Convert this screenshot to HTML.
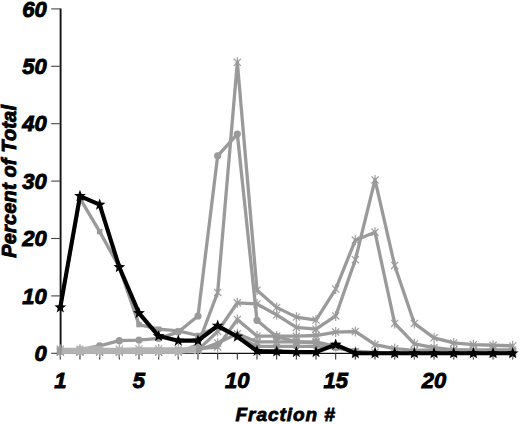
<!DOCTYPE html>
<html><head><meta charset="utf-8"><style>
html,body{margin:0;padding:0;background:#fff;}
body{width:520px;height:424px;overflow:hidden;font-family:"Liberation Sans",sans-serif;}
svg{display:block;}
</style></head><body>
<svg width="520" height="424" viewBox="0 0 520 424">
<rect width="520" height="424" fill="#fff"/>
<line x1="60.6" y1="8.6" x2="60.6" y2="354" stroke="#111" stroke-width="1.9"/><line x1="59.6" y1="353.4" x2="516" y2="353.4" stroke="#111" stroke-width="1.2"/><line x1="51.2" y1="353.30" x2="60.4" y2="353.30" stroke="#444" stroke-width="1.1"/><line x1="51.2" y1="295.90" x2="60.4" y2="295.90" stroke="#444" stroke-width="1.1"/><line x1="51.2" y1="238.50" x2="60.4" y2="238.50" stroke="#444" stroke-width="1.1"/><line x1="51.2" y1="181.10" x2="60.4" y2="181.10" stroke="#444" stroke-width="1.1"/><line x1="51.2" y1="123.70" x2="60.4" y2="123.70" stroke="#444" stroke-width="1.1"/><line x1="51.2" y1="66.30" x2="60.4" y2="66.30" stroke="#444" stroke-width="1.1"/><line x1="51.2" y1="8.90" x2="60.4" y2="8.90" stroke="#444" stroke-width="1.1"/><line x1="60.30" y1="353" x2="60.30" y2="359.6" stroke="#333" stroke-width="1.1"/><line x1="79.97" y1="353" x2="79.97" y2="359.6" stroke="#333" stroke-width="1.1"/><line x1="99.64" y1="353" x2="99.64" y2="359.6" stroke="#333" stroke-width="1.1"/><line x1="119.31" y1="353" x2="119.31" y2="359.6" stroke="#333" stroke-width="1.1"/><line x1="138.98" y1="353" x2="138.98" y2="359.6" stroke="#333" stroke-width="1.1"/><line x1="158.65" y1="353" x2="158.65" y2="359.6" stroke="#333" stroke-width="1.1"/><line x1="178.32" y1="353" x2="178.32" y2="359.6" stroke="#333" stroke-width="1.1"/><line x1="197.99" y1="353" x2="197.99" y2="359.6" stroke="#333" stroke-width="1.1"/><line x1="217.66" y1="353" x2="217.66" y2="359.6" stroke="#333" stroke-width="1.1"/><line x1="237.33" y1="353" x2="237.33" y2="359.6" stroke="#333" stroke-width="1.1"/><line x1="257.00" y1="353" x2="257.00" y2="359.6" stroke="#333" stroke-width="1.1"/><line x1="276.67" y1="353" x2="276.67" y2="359.6" stroke="#333" stroke-width="1.1"/><line x1="296.34" y1="353" x2="296.34" y2="359.6" stroke="#333" stroke-width="1.1"/><line x1="316.01" y1="353" x2="316.01" y2="359.6" stroke="#333" stroke-width="1.1"/><line x1="335.68" y1="353" x2="335.68" y2="359.6" stroke="#333" stroke-width="1.1"/><line x1="355.35" y1="353" x2="355.35" y2="359.6" stroke="#333" stroke-width="1.1"/><line x1="375.02" y1="353" x2="375.02" y2="359.6" stroke="#333" stroke-width="1.1"/><line x1="394.69" y1="353" x2="394.69" y2="359.6" stroke="#333" stroke-width="1.1"/><line x1="414.36" y1="353" x2="414.36" y2="359.6" stroke="#333" stroke-width="1.1"/><line x1="434.03" y1="353" x2="434.03" y2="359.6" stroke="#333" stroke-width="1.1"/><line x1="453.70" y1="353" x2="453.70" y2="359.6" stroke="#333" stroke-width="1.1"/><line x1="473.37" y1="353" x2="473.37" y2="359.6" stroke="#333" stroke-width="1.1"/><line x1="493.04" y1="353" x2="493.04" y2="359.6" stroke="#333" stroke-width="1.1"/><line x1="512.71" y1="353" x2="512.71" y2="359.6" stroke="#333" stroke-width="1.1"/><polyline points="60.30,352.15 79.97,352.15 99.64,352.15 119.31,352.15 138.98,352.15 158.65,352.15 178.32,352.15 197.99,350.43 217.66,342.97 237.33,333.78 257.00,341.82 276.67,341.82 296.34,341.82 316.01,342.97 335.68,346.41 355.35,351.58 375.02,352.73 394.69,353.30 414.36,353.30 434.03,353.30 453.70,353.30 473.37,353.30 493.04,353.30 512.71,353.30" fill="none" stroke="#9a9a9a" stroke-width="3.3" stroke-linejoin="round" stroke-linecap="round"/><polyline points="60.30,349.28 79.97,349.28 99.64,349.28 119.31,349.28 138.98,349.00 158.65,349.00 178.32,349.00 197.99,348.71 217.66,346.99 237.33,319.43 257.00,336.08 276.67,336.08 296.34,336.08 316.01,335.51 335.68,332.06 355.35,331.49 375.02,344.69 394.69,348.71 414.36,350.43 434.03,349.86 453.70,349.86 473.37,349.86 493.04,349.86 512.71,349.86" fill="none" stroke="#9a9a9a" stroke-width="3.3" stroke-linejoin="round" stroke-linecap="round"/><polyline points="60.30,351.00 79.97,351.00 99.64,351.00 119.31,351.00 138.98,351.00 158.65,350.43 178.32,350.43 197.99,349.86 217.66,331.49 237.33,302.79 257.00,303.94 276.67,314.84 296.34,327.47 316.01,329.19 335.68,315.99 355.35,259.74 375.02,179.95 394.69,265.48 414.36,323.45 434.03,337.80 453.70,342.97 473.37,344.69 493.04,345.26 512.71,345.84" fill="none" stroke="#9a9a9a" stroke-width="3.3" stroke-linejoin="round" stroke-linecap="round"/><polyline points="60.30,351.58 79.97,349.28 99.64,345.84 119.31,340.67 138.98,340.10 158.65,338.38 178.32,332.06 197.99,315.99 217.66,155.84 237.33,134.03 257.00,320.30 276.67,336.65 296.34,341.82 316.01,341.82 335.68,346.41 355.35,351.58 375.02,352.73 394.69,353.30 414.36,353.30 434.03,353.30 453.70,353.30 473.37,353.30 493.04,353.30 512.71,353.30" fill="none" stroke="#9a9a9a" stroke-width="3.3" stroke-linejoin="round" stroke-linecap="round"/><polyline points="60.30,307.38 79.97,198.32 99.64,231.61 119.31,267.20 138.98,324.60 158.65,329.19 178.32,330.91 197.99,335.51 217.66,326.90 237.33,336.65 257.00,346.41 276.67,346.41 296.34,346.41 316.01,346.41 335.68,348.13 355.35,351.00 375.02,353.30 394.69,353.30 414.36,353.30 434.03,353.30 453.70,353.30 473.37,353.30 493.04,353.30 512.71,353.30" fill="none" stroke="#9a9a9a" stroke-width="3.3" stroke-linejoin="round" stroke-linecap="round"/><polyline points="60.30,352.15 79.97,352.15 99.64,352.15 119.31,352.15 138.98,352.15 158.65,352.15 178.32,352.15 197.99,344.69 217.66,292.46 237.33,62.28 257.00,290.16 276.67,307.38 296.34,317.14 316.01,320.01 335.68,289.01 355.35,240.22 375.02,232.19 394.69,323.45 414.36,343.83 434.03,347.56 453.70,349.86 473.37,351.00 493.04,351.58 512.71,351.58" fill="none" stroke="#9a9a9a" stroke-width="3.3" stroke-linejoin="round" stroke-linecap="round"/><line x1="60.30" y1="347.15" x2="60.30" y2="357.15" stroke="#9a9a9a" stroke-width="1.15"/><line x1="56.76" y1="348.62" x2="63.84" y2="355.69" stroke="#9a9a9a" stroke-width="1.15"/><line x1="63.84" y1="348.62" x2="56.76" y2="355.69" stroke="#9a9a9a" stroke-width="1.15"/><line x1="79.97" y1="347.15" x2="79.97" y2="357.15" stroke="#9a9a9a" stroke-width="1.15"/><line x1="76.43" y1="348.62" x2="83.51" y2="355.69" stroke="#9a9a9a" stroke-width="1.15"/><line x1="83.51" y1="348.62" x2="76.43" y2="355.69" stroke="#9a9a9a" stroke-width="1.15"/><line x1="99.64" y1="347.15" x2="99.64" y2="357.15" stroke="#9a9a9a" stroke-width="1.15"/><line x1="96.10" y1="348.62" x2="103.18" y2="355.69" stroke="#9a9a9a" stroke-width="1.15"/><line x1="103.18" y1="348.62" x2="96.10" y2="355.69" stroke="#9a9a9a" stroke-width="1.15"/><line x1="119.31" y1="347.15" x2="119.31" y2="357.15" stroke="#9a9a9a" stroke-width="1.15"/><line x1="115.77" y1="348.62" x2="122.85" y2="355.69" stroke="#9a9a9a" stroke-width="1.15"/><line x1="122.85" y1="348.62" x2="115.77" y2="355.69" stroke="#9a9a9a" stroke-width="1.15"/><line x1="138.98" y1="347.15" x2="138.98" y2="357.15" stroke="#9a9a9a" stroke-width="1.15"/><line x1="135.44" y1="348.62" x2="142.52" y2="355.69" stroke="#9a9a9a" stroke-width="1.15"/><line x1="142.52" y1="348.62" x2="135.44" y2="355.69" stroke="#9a9a9a" stroke-width="1.15"/><line x1="158.65" y1="347.15" x2="158.65" y2="357.15" stroke="#9a9a9a" stroke-width="1.15"/><line x1="155.11" y1="348.62" x2="162.19" y2="355.69" stroke="#9a9a9a" stroke-width="1.15"/><line x1="162.19" y1="348.62" x2="155.11" y2="355.69" stroke="#9a9a9a" stroke-width="1.15"/><line x1="178.32" y1="347.15" x2="178.32" y2="357.15" stroke="#9a9a9a" stroke-width="1.15"/><line x1="174.78" y1="348.62" x2="181.86" y2="355.69" stroke="#9a9a9a" stroke-width="1.15"/><line x1="181.86" y1="348.62" x2="174.78" y2="355.69" stroke="#9a9a9a" stroke-width="1.15"/><line x1="197.99" y1="339.69" x2="197.99" y2="349.69" stroke="#9a9a9a" stroke-width="1.15"/><line x1="194.45" y1="341.15" x2="201.53" y2="348.23" stroke="#9a9a9a" stroke-width="1.15"/><line x1="201.53" y1="341.15" x2="194.45" y2="348.23" stroke="#9a9a9a" stroke-width="1.15"/><line x1="217.66" y1="287.46" x2="217.66" y2="297.46" stroke="#9a9a9a" stroke-width="1.15"/><line x1="214.12" y1="288.92" x2="221.20" y2="295.99" stroke="#9a9a9a" stroke-width="1.15"/><line x1="221.20" y1="288.92" x2="214.12" y2="295.99" stroke="#9a9a9a" stroke-width="1.15"/><line x1="237.33" y1="57.28" x2="237.33" y2="67.28" stroke="#9a9a9a" stroke-width="1.15"/><line x1="233.79" y1="58.75" x2="240.87" y2="65.82" stroke="#9a9a9a" stroke-width="1.15"/><line x1="240.87" y1="58.75" x2="233.79" y2="65.82" stroke="#9a9a9a" stroke-width="1.15"/><line x1="257.00" y1="285.16" x2="257.00" y2="295.16" stroke="#9a9a9a" stroke-width="1.15"/><line x1="253.46" y1="286.62" x2="260.54" y2="293.70" stroke="#9a9a9a" stroke-width="1.15"/><line x1="260.54" y1="286.62" x2="253.46" y2="293.70" stroke="#9a9a9a" stroke-width="1.15"/><line x1="276.67" y1="302.38" x2="276.67" y2="312.38" stroke="#9a9a9a" stroke-width="1.15"/><line x1="273.13" y1="303.84" x2="280.21" y2="310.92" stroke="#9a9a9a" stroke-width="1.15"/><line x1="280.21" y1="303.84" x2="273.13" y2="310.92" stroke="#9a9a9a" stroke-width="1.15"/><line x1="296.34" y1="312.14" x2="296.34" y2="322.14" stroke="#9a9a9a" stroke-width="1.15"/><line x1="292.80" y1="313.60" x2="299.88" y2="320.67" stroke="#9a9a9a" stroke-width="1.15"/><line x1="299.88" y1="313.60" x2="292.80" y2="320.67" stroke="#9a9a9a" stroke-width="1.15"/><line x1="316.01" y1="315.01" x2="316.01" y2="325.01" stroke="#9a9a9a" stroke-width="1.15"/><line x1="312.47" y1="316.47" x2="319.55" y2="323.54" stroke="#9a9a9a" stroke-width="1.15"/><line x1="319.55" y1="316.47" x2="312.47" y2="323.54" stroke="#9a9a9a" stroke-width="1.15"/><line x1="335.68" y1="284.01" x2="335.68" y2="294.01" stroke="#9a9a9a" stroke-width="1.15"/><line x1="332.14" y1="285.48" x2="339.22" y2="292.55" stroke="#9a9a9a" stroke-width="1.15"/><line x1="339.22" y1="285.48" x2="332.14" y2="292.55" stroke="#9a9a9a" stroke-width="1.15"/><line x1="355.35" y1="235.22" x2="355.35" y2="245.22" stroke="#9a9a9a" stroke-width="1.15"/><line x1="351.81" y1="236.69" x2="358.89" y2="243.76" stroke="#9a9a9a" stroke-width="1.15"/><line x1="358.89" y1="236.69" x2="351.81" y2="243.76" stroke="#9a9a9a" stroke-width="1.15"/><line x1="375.02" y1="227.19" x2="375.02" y2="237.19" stroke="#9a9a9a" stroke-width="1.15"/><line x1="371.48" y1="228.65" x2="378.56" y2="235.72" stroke="#9a9a9a" stroke-width="1.15"/><line x1="378.56" y1="228.65" x2="371.48" y2="235.72" stroke="#9a9a9a" stroke-width="1.15"/><line x1="394.69" y1="318.45" x2="394.69" y2="328.45" stroke="#9a9a9a" stroke-width="1.15"/><line x1="391.15" y1="319.92" x2="398.23" y2="326.99" stroke="#9a9a9a" stroke-width="1.15"/><line x1="398.23" y1="319.92" x2="391.15" y2="326.99" stroke="#9a9a9a" stroke-width="1.15"/><line x1="414.36" y1="338.83" x2="414.36" y2="348.83" stroke="#9a9a9a" stroke-width="1.15"/><line x1="410.82" y1="340.29" x2="417.90" y2="347.36" stroke="#9a9a9a" stroke-width="1.15"/><line x1="417.90" y1="340.29" x2="410.82" y2="347.36" stroke="#9a9a9a" stroke-width="1.15"/><line x1="434.03" y1="342.56" x2="434.03" y2="352.56" stroke="#9a9a9a" stroke-width="1.15"/><line x1="430.49" y1="344.02" x2="437.57" y2="351.10" stroke="#9a9a9a" stroke-width="1.15"/><line x1="437.57" y1="344.02" x2="430.49" y2="351.10" stroke="#9a9a9a" stroke-width="1.15"/><line x1="453.70" y1="344.86" x2="453.70" y2="354.86" stroke="#9a9a9a" stroke-width="1.15"/><line x1="450.16" y1="346.32" x2="457.24" y2="353.39" stroke="#9a9a9a" stroke-width="1.15"/><line x1="457.24" y1="346.32" x2="450.16" y2="353.39" stroke="#9a9a9a" stroke-width="1.15"/><line x1="473.37" y1="346.00" x2="473.37" y2="356.00" stroke="#9a9a9a" stroke-width="1.15"/><line x1="469.83" y1="347.47" x2="476.91" y2="354.54" stroke="#9a9a9a" stroke-width="1.15"/><line x1="476.91" y1="347.47" x2="469.83" y2="354.54" stroke="#9a9a9a" stroke-width="1.15"/><line x1="493.04" y1="346.58" x2="493.04" y2="356.58" stroke="#9a9a9a" stroke-width="1.15"/><line x1="489.50" y1="348.04" x2="496.58" y2="355.11" stroke="#9a9a9a" stroke-width="1.15"/><line x1="496.58" y1="348.04" x2="489.50" y2="355.11" stroke="#9a9a9a" stroke-width="1.15"/><line x1="512.71" y1="346.58" x2="512.71" y2="356.58" stroke="#9a9a9a" stroke-width="1.15"/><line x1="509.17" y1="348.04" x2="516.25" y2="355.11" stroke="#9a9a9a" stroke-width="1.15"/><line x1="516.25" y1="348.04" x2="509.17" y2="355.11" stroke="#9a9a9a" stroke-width="1.15"/><rect x="57.60" y="304.68" width="5.4" height="5.4" fill="#9a9a9a"/><rect x="77.27" y="195.62" width="5.4" height="5.4" fill="#9a9a9a"/><rect x="96.94" y="228.91" width="5.4" height="5.4" fill="#9a9a9a"/><rect x="116.61" y="264.50" width="5.4" height="5.4" fill="#9a9a9a"/><rect x="136.28" y="321.90" width="5.4" height="5.4" fill="#9a9a9a"/><rect x="155.95" y="326.49" width="5.4" height="5.4" fill="#9a9a9a"/><rect x="175.62" y="328.21" width="5.4" height="5.4" fill="#9a9a9a"/><rect x="195.29" y="332.81" width="5.4" height="5.4" fill="#9a9a9a"/><rect x="214.96" y="324.20" width="5.4" height="5.4" fill="#9a9a9a"/><rect x="234.63" y="333.95" width="5.4" height="5.4" fill="#9a9a9a"/><rect x="254.30" y="343.71" width="5.4" height="5.4" fill="#9a9a9a"/><rect x="273.97" y="343.71" width="5.4" height="5.4" fill="#9a9a9a"/><rect x="293.64" y="343.71" width="5.4" height="5.4" fill="#9a9a9a"/><rect x="313.31" y="343.71" width="5.4" height="5.4" fill="#9a9a9a"/><rect x="332.98" y="345.43" width="5.4" height="5.4" fill="#9a9a9a"/><rect x="352.65" y="348.30" width="5.4" height="5.4" fill="#9a9a9a"/><rect x="372.32" y="350.60" width="5.4" height="5.4" fill="#9a9a9a"/><rect x="391.99" y="350.60" width="5.4" height="5.4" fill="#9a9a9a"/><rect x="411.66" y="350.60" width="5.4" height="5.4" fill="#9a9a9a"/><rect x="431.33" y="350.60" width="5.4" height="5.4" fill="#9a9a9a"/><rect x="451.00" y="350.60" width="5.4" height="5.4" fill="#9a9a9a"/><rect x="470.67" y="350.60" width="5.4" height="5.4" fill="#9a9a9a"/><rect x="490.34" y="350.60" width="5.4" height="5.4" fill="#9a9a9a"/><rect x="510.01" y="350.60" width="5.4" height="5.4" fill="#9a9a9a"/><line x1="60.30" y1="346.00" x2="60.30" y2="356.00" stroke="#9a9a9a" stroke-width="1.15"/><line x1="56.76" y1="347.47" x2="63.84" y2="354.54" stroke="#9a9a9a" stroke-width="1.15"/><line x1="63.84" y1="347.47" x2="56.76" y2="354.54" stroke="#9a9a9a" stroke-width="1.15"/><line x1="79.97" y1="346.00" x2="79.97" y2="356.00" stroke="#9a9a9a" stroke-width="1.15"/><line x1="76.43" y1="347.47" x2="83.51" y2="354.54" stroke="#9a9a9a" stroke-width="1.15"/><line x1="83.51" y1="347.47" x2="76.43" y2="354.54" stroke="#9a9a9a" stroke-width="1.15"/><line x1="99.64" y1="346.00" x2="99.64" y2="356.00" stroke="#9a9a9a" stroke-width="1.15"/><line x1="96.10" y1="347.47" x2="103.18" y2="354.54" stroke="#9a9a9a" stroke-width="1.15"/><line x1="103.18" y1="347.47" x2="96.10" y2="354.54" stroke="#9a9a9a" stroke-width="1.15"/><line x1="119.31" y1="346.00" x2="119.31" y2="356.00" stroke="#9a9a9a" stroke-width="1.15"/><line x1="115.77" y1="347.47" x2="122.85" y2="354.54" stroke="#9a9a9a" stroke-width="1.15"/><line x1="122.85" y1="347.47" x2="115.77" y2="354.54" stroke="#9a9a9a" stroke-width="1.15"/><line x1="138.98" y1="346.00" x2="138.98" y2="356.00" stroke="#9a9a9a" stroke-width="1.15"/><line x1="135.44" y1="347.47" x2="142.52" y2="354.54" stroke="#9a9a9a" stroke-width="1.15"/><line x1="142.52" y1="347.47" x2="135.44" y2="354.54" stroke="#9a9a9a" stroke-width="1.15"/><line x1="158.65" y1="345.43" x2="158.65" y2="355.43" stroke="#9a9a9a" stroke-width="1.15"/><line x1="155.11" y1="346.89" x2="162.19" y2="353.97" stroke="#9a9a9a" stroke-width="1.15"/><line x1="162.19" y1="346.89" x2="155.11" y2="353.97" stroke="#9a9a9a" stroke-width="1.15"/><line x1="178.32" y1="345.43" x2="178.32" y2="355.43" stroke="#9a9a9a" stroke-width="1.15"/><line x1="174.78" y1="346.89" x2="181.86" y2="353.97" stroke="#9a9a9a" stroke-width="1.15"/><line x1="181.86" y1="346.89" x2="174.78" y2="353.97" stroke="#9a9a9a" stroke-width="1.15"/><line x1="197.99" y1="344.86" x2="197.99" y2="354.86" stroke="#9a9a9a" stroke-width="1.15"/><line x1="194.45" y1="346.32" x2="201.53" y2="353.39" stroke="#9a9a9a" stroke-width="1.15"/><line x1="201.53" y1="346.32" x2="194.45" y2="353.39" stroke="#9a9a9a" stroke-width="1.15"/><line x1="217.66" y1="326.49" x2="217.66" y2="336.49" stroke="#9a9a9a" stroke-width="1.15"/><line x1="214.12" y1="327.95" x2="221.20" y2="335.02" stroke="#9a9a9a" stroke-width="1.15"/><line x1="221.20" y1="327.95" x2="214.12" y2="335.02" stroke="#9a9a9a" stroke-width="1.15"/><line x1="237.33" y1="297.79" x2="237.33" y2="307.79" stroke="#9a9a9a" stroke-width="1.15"/><line x1="233.79" y1="299.25" x2="240.87" y2="306.32" stroke="#9a9a9a" stroke-width="1.15"/><line x1="240.87" y1="299.25" x2="233.79" y2="306.32" stroke="#9a9a9a" stroke-width="1.15"/><line x1="257.00" y1="298.94" x2="257.00" y2="308.94" stroke="#9a9a9a" stroke-width="1.15"/><line x1="253.46" y1="300.40" x2="260.54" y2="307.47" stroke="#9a9a9a" stroke-width="1.15"/><line x1="260.54" y1="300.40" x2="253.46" y2="307.47" stroke="#9a9a9a" stroke-width="1.15"/><line x1="276.67" y1="309.84" x2="276.67" y2="319.84" stroke="#9a9a9a" stroke-width="1.15"/><line x1="273.13" y1="311.31" x2="280.21" y2="318.38" stroke="#9a9a9a" stroke-width="1.15"/><line x1="280.21" y1="311.31" x2="273.13" y2="318.38" stroke="#9a9a9a" stroke-width="1.15"/><line x1="296.34" y1="322.47" x2="296.34" y2="332.47" stroke="#9a9a9a" stroke-width="1.15"/><line x1="292.80" y1="323.93" x2="299.88" y2="331.01" stroke="#9a9a9a" stroke-width="1.15"/><line x1="299.88" y1="323.93" x2="292.80" y2="331.01" stroke="#9a9a9a" stroke-width="1.15"/><line x1="316.01" y1="324.19" x2="316.01" y2="334.19" stroke="#9a9a9a" stroke-width="1.15"/><line x1="312.47" y1="325.66" x2="319.55" y2="332.73" stroke="#9a9a9a" stroke-width="1.15"/><line x1="319.55" y1="325.66" x2="312.47" y2="332.73" stroke="#9a9a9a" stroke-width="1.15"/><line x1="335.68" y1="310.99" x2="335.68" y2="320.99" stroke="#9a9a9a" stroke-width="1.15"/><line x1="332.14" y1="312.45" x2="339.22" y2="319.53" stroke="#9a9a9a" stroke-width="1.15"/><line x1="339.22" y1="312.45" x2="332.14" y2="319.53" stroke="#9a9a9a" stroke-width="1.15"/><line x1="355.35" y1="254.74" x2="355.35" y2="264.74" stroke="#9a9a9a" stroke-width="1.15"/><line x1="351.81" y1="256.20" x2="358.89" y2="263.27" stroke="#9a9a9a" stroke-width="1.15"/><line x1="358.89" y1="256.20" x2="351.81" y2="263.27" stroke="#9a9a9a" stroke-width="1.15"/><line x1="375.02" y1="174.95" x2="375.02" y2="184.95" stroke="#9a9a9a" stroke-width="1.15"/><line x1="371.48" y1="176.42" x2="378.56" y2="183.49" stroke="#9a9a9a" stroke-width="1.15"/><line x1="378.56" y1="176.42" x2="371.48" y2="183.49" stroke="#9a9a9a" stroke-width="1.15"/><line x1="394.69" y1="260.48" x2="394.69" y2="270.48" stroke="#9a9a9a" stroke-width="1.15"/><line x1="391.15" y1="261.94" x2="398.23" y2="269.01" stroke="#9a9a9a" stroke-width="1.15"/><line x1="398.23" y1="261.94" x2="391.15" y2="269.01" stroke="#9a9a9a" stroke-width="1.15"/><line x1="414.36" y1="318.45" x2="414.36" y2="328.45" stroke="#9a9a9a" stroke-width="1.15"/><line x1="410.82" y1="319.92" x2="417.90" y2="326.99" stroke="#9a9a9a" stroke-width="1.15"/><line x1="417.90" y1="319.92" x2="410.82" y2="326.99" stroke="#9a9a9a" stroke-width="1.15"/><line x1="434.03" y1="332.80" x2="434.03" y2="342.80" stroke="#9a9a9a" stroke-width="1.15"/><line x1="430.49" y1="334.27" x2="437.57" y2="341.34" stroke="#9a9a9a" stroke-width="1.15"/><line x1="437.57" y1="334.27" x2="430.49" y2="341.34" stroke="#9a9a9a" stroke-width="1.15"/><line x1="453.70" y1="337.97" x2="453.70" y2="347.97" stroke="#9a9a9a" stroke-width="1.15"/><line x1="450.16" y1="339.43" x2="457.24" y2="346.50" stroke="#9a9a9a" stroke-width="1.15"/><line x1="457.24" y1="339.43" x2="450.16" y2="346.50" stroke="#9a9a9a" stroke-width="1.15"/><line x1="473.37" y1="339.69" x2="473.37" y2="349.69" stroke="#9a9a9a" stroke-width="1.15"/><line x1="469.83" y1="341.15" x2="476.91" y2="348.23" stroke="#9a9a9a" stroke-width="1.15"/><line x1="476.91" y1="341.15" x2="469.83" y2="348.23" stroke="#9a9a9a" stroke-width="1.15"/><line x1="493.04" y1="340.26" x2="493.04" y2="350.26" stroke="#9a9a9a" stroke-width="1.15"/><line x1="489.50" y1="341.73" x2="496.58" y2="348.80" stroke="#9a9a9a" stroke-width="1.15"/><line x1="496.58" y1="341.73" x2="489.50" y2="348.80" stroke="#9a9a9a" stroke-width="1.15"/><line x1="512.71" y1="340.84" x2="512.71" y2="350.84" stroke="#9a9a9a" stroke-width="1.15"/><line x1="509.17" y1="342.30" x2="516.25" y2="349.37" stroke="#9a9a9a" stroke-width="1.15"/><line x1="516.25" y1="342.30" x2="509.17" y2="349.37" stroke="#9a9a9a" stroke-width="1.15"/><circle cx="60.30" cy="351.58" r="3.6" fill="#9a9a9a"/><circle cx="79.97" cy="349.28" r="3.6" fill="#9a9a9a"/><circle cx="99.64" cy="345.84" r="3.6" fill="#9a9a9a"/><circle cx="119.31" cy="340.67" r="3.6" fill="#9a9a9a"/><circle cx="138.98" cy="340.10" r="3.6" fill="#9a9a9a"/><circle cx="158.65" cy="338.38" r="3.6" fill="#9a9a9a"/><circle cx="178.32" cy="332.06" r="3.6" fill="#9a9a9a"/><circle cx="197.99" cy="315.99" r="3.6" fill="#9a9a9a"/><circle cx="217.66" cy="155.84" r="3.6" fill="#9a9a9a"/><circle cx="237.33" cy="134.03" r="3.6" fill="#9a9a9a"/><circle cx="257.00" cy="320.30" r="3.6" fill="#9a9a9a"/><circle cx="276.67" cy="336.65" r="3.6" fill="#9a9a9a"/><circle cx="296.34" cy="341.82" r="3.6" fill="#9a9a9a"/><circle cx="316.01" cy="341.82" r="3.6" fill="#9a9a9a"/><circle cx="335.68" cy="346.41" r="3.6" fill="#9a9a9a"/><circle cx="355.35" cy="351.58" r="3.6" fill="#9a9a9a"/><circle cx="375.02" cy="352.73" r="3.6" fill="#9a9a9a"/><circle cx="394.69" cy="353.30" r="3.6" fill="#9a9a9a"/><circle cx="414.36" cy="353.30" r="3.6" fill="#9a9a9a"/><circle cx="434.03" cy="353.30" r="3.6" fill="#9a9a9a"/><circle cx="453.70" cy="353.30" r="3.6" fill="#9a9a9a"/><circle cx="473.37" cy="353.30" r="3.6" fill="#9a9a9a"/><circle cx="493.04" cy="353.30" r="3.6" fill="#9a9a9a"/><circle cx="512.71" cy="353.30" r="3.6" fill="#9a9a9a"/><line x1="60.30" y1="344.28" x2="60.30" y2="354.28" stroke="#9a9a9a" stroke-width="1.15"/><line x1="56.76" y1="345.75" x2="63.84" y2="352.82" stroke="#9a9a9a" stroke-width="1.15"/><line x1="63.84" y1="345.75" x2="56.76" y2="352.82" stroke="#9a9a9a" stroke-width="1.15"/><line x1="79.97" y1="344.28" x2="79.97" y2="354.28" stroke="#9a9a9a" stroke-width="1.15"/><line x1="76.43" y1="345.75" x2="83.51" y2="352.82" stroke="#9a9a9a" stroke-width="1.15"/><line x1="83.51" y1="345.75" x2="76.43" y2="352.82" stroke="#9a9a9a" stroke-width="1.15"/><line x1="99.64" y1="344.28" x2="99.64" y2="354.28" stroke="#9a9a9a" stroke-width="1.15"/><line x1="96.10" y1="345.75" x2="103.18" y2="352.82" stroke="#9a9a9a" stroke-width="1.15"/><line x1="103.18" y1="345.75" x2="96.10" y2="352.82" stroke="#9a9a9a" stroke-width="1.15"/><line x1="119.31" y1="344.28" x2="119.31" y2="354.28" stroke="#9a9a9a" stroke-width="1.15"/><line x1="115.77" y1="345.75" x2="122.85" y2="352.82" stroke="#9a9a9a" stroke-width="1.15"/><line x1="122.85" y1="345.75" x2="115.77" y2="352.82" stroke="#9a9a9a" stroke-width="1.15"/><line x1="138.98" y1="344.00" x2="138.98" y2="354.00" stroke="#9a9a9a" stroke-width="1.15"/><line x1="135.44" y1="345.46" x2="142.52" y2="352.53" stroke="#9a9a9a" stroke-width="1.15"/><line x1="142.52" y1="345.46" x2="135.44" y2="352.53" stroke="#9a9a9a" stroke-width="1.15"/><line x1="158.65" y1="344.00" x2="158.65" y2="354.00" stroke="#9a9a9a" stroke-width="1.15"/><line x1="155.11" y1="345.46" x2="162.19" y2="352.53" stroke="#9a9a9a" stroke-width="1.15"/><line x1="162.19" y1="345.46" x2="155.11" y2="352.53" stroke="#9a9a9a" stroke-width="1.15"/><line x1="178.32" y1="344.00" x2="178.32" y2="354.00" stroke="#9a9a9a" stroke-width="1.15"/><line x1="174.78" y1="345.46" x2="181.86" y2="352.53" stroke="#9a9a9a" stroke-width="1.15"/><line x1="181.86" y1="345.46" x2="174.78" y2="352.53" stroke="#9a9a9a" stroke-width="1.15"/><line x1="197.99" y1="343.71" x2="197.99" y2="353.71" stroke="#9a9a9a" stroke-width="1.15"/><line x1="194.45" y1="345.17" x2="201.53" y2="352.24" stroke="#9a9a9a" stroke-width="1.15"/><line x1="201.53" y1="345.17" x2="194.45" y2="352.24" stroke="#9a9a9a" stroke-width="1.15"/><line x1="217.66" y1="341.99" x2="217.66" y2="351.99" stroke="#9a9a9a" stroke-width="1.15"/><line x1="214.12" y1="343.45" x2="221.20" y2="350.52" stroke="#9a9a9a" stroke-width="1.15"/><line x1="221.20" y1="343.45" x2="214.12" y2="350.52" stroke="#9a9a9a" stroke-width="1.15"/><line x1="237.33" y1="314.43" x2="237.33" y2="324.43" stroke="#9a9a9a" stroke-width="1.15"/><line x1="233.79" y1="315.90" x2="240.87" y2="322.97" stroke="#9a9a9a" stroke-width="1.15"/><line x1="240.87" y1="315.90" x2="233.79" y2="322.97" stroke="#9a9a9a" stroke-width="1.15"/><line x1="257.00" y1="331.08" x2="257.00" y2="341.08" stroke="#9a9a9a" stroke-width="1.15"/><line x1="253.46" y1="332.54" x2="260.54" y2="339.62" stroke="#9a9a9a" stroke-width="1.15"/><line x1="260.54" y1="332.54" x2="253.46" y2="339.62" stroke="#9a9a9a" stroke-width="1.15"/><line x1="276.67" y1="331.08" x2="276.67" y2="341.08" stroke="#9a9a9a" stroke-width="1.15"/><line x1="273.13" y1="332.54" x2="280.21" y2="339.62" stroke="#9a9a9a" stroke-width="1.15"/><line x1="280.21" y1="332.54" x2="273.13" y2="339.62" stroke="#9a9a9a" stroke-width="1.15"/><line x1="296.34" y1="331.08" x2="296.34" y2="341.08" stroke="#9a9a9a" stroke-width="1.15"/><line x1="292.80" y1="332.54" x2="299.88" y2="339.62" stroke="#9a9a9a" stroke-width="1.15"/><line x1="299.88" y1="332.54" x2="292.80" y2="339.62" stroke="#9a9a9a" stroke-width="1.15"/><line x1="316.01" y1="330.51" x2="316.01" y2="340.51" stroke="#9a9a9a" stroke-width="1.15"/><line x1="312.47" y1="331.97" x2="319.55" y2="339.04" stroke="#9a9a9a" stroke-width="1.15"/><line x1="319.55" y1="331.97" x2="312.47" y2="339.04" stroke="#9a9a9a" stroke-width="1.15"/><line x1="335.68" y1="327.06" x2="335.68" y2="337.06" stroke="#9a9a9a" stroke-width="1.15"/><line x1="332.14" y1="328.53" x2="339.22" y2="335.60" stroke="#9a9a9a" stroke-width="1.15"/><line x1="339.22" y1="328.53" x2="332.14" y2="335.60" stroke="#9a9a9a" stroke-width="1.15"/><line x1="355.35" y1="326.49" x2="355.35" y2="336.49" stroke="#9a9a9a" stroke-width="1.15"/><line x1="351.81" y1="327.95" x2="358.89" y2="335.02" stroke="#9a9a9a" stroke-width="1.15"/><line x1="358.89" y1="327.95" x2="351.81" y2="335.02" stroke="#9a9a9a" stroke-width="1.15"/><line x1="375.02" y1="339.69" x2="375.02" y2="349.69" stroke="#9a9a9a" stroke-width="1.15"/><line x1="371.48" y1="341.15" x2="378.56" y2="348.23" stroke="#9a9a9a" stroke-width="1.15"/><line x1="378.56" y1="341.15" x2="371.48" y2="348.23" stroke="#9a9a9a" stroke-width="1.15"/><line x1="394.69" y1="343.71" x2="394.69" y2="353.71" stroke="#9a9a9a" stroke-width="1.15"/><line x1="391.15" y1="345.17" x2="398.23" y2="352.24" stroke="#9a9a9a" stroke-width="1.15"/><line x1="398.23" y1="345.17" x2="391.15" y2="352.24" stroke="#9a9a9a" stroke-width="1.15"/><line x1="414.36" y1="345.43" x2="414.36" y2="355.43" stroke="#9a9a9a" stroke-width="1.15"/><line x1="410.82" y1="346.89" x2="417.90" y2="353.97" stroke="#9a9a9a" stroke-width="1.15"/><line x1="417.90" y1="346.89" x2="410.82" y2="353.97" stroke="#9a9a9a" stroke-width="1.15"/><line x1="434.03" y1="344.86" x2="434.03" y2="354.86" stroke="#9a9a9a" stroke-width="1.15"/><line x1="430.49" y1="346.32" x2="437.57" y2="353.39" stroke="#9a9a9a" stroke-width="1.15"/><line x1="437.57" y1="346.32" x2="430.49" y2="353.39" stroke="#9a9a9a" stroke-width="1.15"/><line x1="453.70" y1="344.86" x2="453.70" y2="354.86" stroke="#9a9a9a" stroke-width="1.15"/><line x1="450.16" y1="346.32" x2="457.24" y2="353.39" stroke="#9a9a9a" stroke-width="1.15"/><line x1="457.24" y1="346.32" x2="450.16" y2="353.39" stroke="#9a9a9a" stroke-width="1.15"/><line x1="473.37" y1="344.86" x2="473.37" y2="354.86" stroke="#9a9a9a" stroke-width="1.15"/><line x1="469.83" y1="346.32" x2="476.91" y2="353.39" stroke="#9a9a9a" stroke-width="1.15"/><line x1="476.91" y1="346.32" x2="469.83" y2="353.39" stroke="#9a9a9a" stroke-width="1.15"/><line x1="493.04" y1="344.86" x2="493.04" y2="354.86" stroke="#9a9a9a" stroke-width="1.15"/><line x1="489.50" y1="346.32" x2="496.58" y2="353.39" stroke="#9a9a9a" stroke-width="1.15"/><line x1="496.58" y1="346.32" x2="489.50" y2="353.39" stroke="#9a9a9a" stroke-width="1.15"/><line x1="512.71" y1="344.86" x2="512.71" y2="354.86" stroke="#9a9a9a" stroke-width="1.15"/><line x1="509.17" y1="346.32" x2="516.25" y2="353.39" stroke="#9a9a9a" stroke-width="1.15"/><line x1="516.25" y1="346.32" x2="509.17" y2="353.39" stroke="#9a9a9a" stroke-width="1.15"/><line x1="60.30" y1="347.15" x2="60.30" y2="357.15" stroke="#9a9a9a" stroke-width="1.15"/><line x1="56.76" y1="348.62" x2="63.84" y2="355.69" stroke="#9a9a9a" stroke-width="1.15"/><line x1="63.84" y1="348.62" x2="56.76" y2="355.69" stroke="#9a9a9a" stroke-width="1.15"/><line x1="79.97" y1="347.15" x2="79.97" y2="357.15" stroke="#9a9a9a" stroke-width="1.15"/><line x1="76.43" y1="348.62" x2="83.51" y2="355.69" stroke="#9a9a9a" stroke-width="1.15"/><line x1="83.51" y1="348.62" x2="76.43" y2="355.69" stroke="#9a9a9a" stroke-width="1.15"/><line x1="99.64" y1="347.15" x2="99.64" y2="357.15" stroke="#9a9a9a" stroke-width="1.15"/><line x1="96.10" y1="348.62" x2="103.18" y2="355.69" stroke="#9a9a9a" stroke-width="1.15"/><line x1="103.18" y1="348.62" x2="96.10" y2="355.69" stroke="#9a9a9a" stroke-width="1.15"/><line x1="119.31" y1="347.15" x2="119.31" y2="357.15" stroke="#9a9a9a" stroke-width="1.15"/><line x1="115.77" y1="348.62" x2="122.85" y2="355.69" stroke="#9a9a9a" stroke-width="1.15"/><line x1="122.85" y1="348.62" x2="115.77" y2="355.69" stroke="#9a9a9a" stroke-width="1.15"/><line x1="138.98" y1="347.15" x2="138.98" y2="357.15" stroke="#9a9a9a" stroke-width="1.15"/><line x1="135.44" y1="348.62" x2="142.52" y2="355.69" stroke="#9a9a9a" stroke-width="1.15"/><line x1="142.52" y1="348.62" x2="135.44" y2="355.69" stroke="#9a9a9a" stroke-width="1.15"/><line x1="158.65" y1="347.15" x2="158.65" y2="357.15" stroke="#9a9a9a" stroke-width="1.15"/><line x1="155.11" y1="348.62" x2="162.19" y2="355.69" stroke="#9a9a9a" stroke-width="1.15"/><line x1="162.19" y1="348.62" x2="155.11" y2="355.69" stroke="#9a9a9a" stroke-width="1.15"/><line x1="178.32" y1="347.15" x2="178.32" y2="357.15" stroke="#9a9a9a" stroke-width="1.15"/><line x1="174.78" y1="348.62" x2="181.86" y2="355.69" stroke="#9a9a9a" stroke-width="1.15"/><line x1="181.86" y1="348.62" x2="174.78" y2="355.69" stroke="#9a9a9a" stroke-width="1.15"/><line x1="197.99" y1="345.43" x2="197.99" y2="355.43" stroke="#9a9a9a" stroke-width="1.15"/><line x1="194.45" y1="346.89" x2="201.53" y2="353.97" stroke="#9a9a9a" stroke-width="1.15"/><line x1="201.53" y1="346.89" x2="194.45" y2="353.97" stroke="#9a9a9a" stroke-width="1.15"/><line x1="217.66" y1="337.97" x2="217.66" y2="347.97" stroke="#9a9a9a" stroke-width="1.15"/><line x1="214.12" y1="339.43" x2="221.20" y2="346.50" stroke="#9a9a9a" stroke-width="1.15"/><line x1="221.20" y1="339.43" x2="214.12" y2="346.50" stroke="#9a9a9a" stroke-width="1.15"/><line x1="237.33" y1="328.78" x2="237.33" y2="338.78" stroke="#9a9a9a" stroke-width="1.15"/><line x1="233.79" y1="330.25" x2="240.87" y2="337.32" stroke="#9a9a9a" stroke-width="1.15"/><line x1="240.87" y1="330.25" x2="233.79" y2="337.32" stroke="#9a9a9a" stroke-width="1.15"/><line x1="257.00" y1="336.82" x2="257.00" y2="346.82" stroke="#9a9a9a" stroke-width="1.15"/><line x1="253.46" y1="338.28" x2="260.54" y2="345.36" stroke="#9a9a9a" stroke-width="1.15"/><line x1="260.54" y1="338.28" x2="253.46" y2="345.36" stroke="#9a9a9a" stroke-width="1.15"/><line x1="276.67" y1="336.82" x2="276.67" y2="346.82" stroke="#9a9a9a" stroke-width="1.15"/><line x1="273.13" y1="338.28" x2="280.21" y2="345.36" stroke="#9a9a9a" stroke-width="1.15"/><line x1="280.21" y1="338.28" x2="273.13" y2="345.36" stroke="#9a9a9a" stroke-width="1.15"/><line x1="296.34" y1="336.82" x2="296.34" y2="346.82" stroke="#9a9a9a" stroke-width="1.15"/><line x1="292.80" y1="338.28" x2="299.88" y2="345.36" stroke="#9a9a9a" stroke-width="1.15"/><line x1="299.88" y1="338.28" x2="292.80" y2="345.36" stroke="#9a9a9a" stroke-width="1.15"/><line x1="316.01" y1="337.97" x2="316.01" y2="347.97" stroke="#9a9a9a" stroke-width="1.15"/><line x1="312.47" y1="339.43" x2="319.55" y2="346.50" stroke="#9a9a9a" stroke-width="1.15"/><line x1="319.55" y1="339.43" x2="312.47" y2="346.50" stroke="#9a9a9a" stroke-width="1.15"/><line x1="335.68" y1="341.41" x2="335.68" y2="351.41" stroke="#9a9a9a" stroke-width="1.15"/><line x1="332.14" y1="342.88" x2="339.22" y2="349.95" stroke="#9a9a9a" stroke-width="1.15"/><line x1="339.22" y1="342.88" x2="332.14" y2="349.95" stroke="#9a9a9a" stroke-width="1.15"/><line x1="355.35" y1="346.58" x2="355.35" y2="356.58" stroke="#9a9a9a" stroke-width="1.15"/><line x1="351.81" y1="348.04" x2="358.89" y2="355.11" stroke="#9a9a9a" stroke-width="1.15"/><line x1="358.89" y1="348.04" x2="351.81" y2="355.11" stroke="#9a9a9a" stroke-width="1.15"/><line x1="375.02" y1="347.73" x2="375.02" y2="357.73" stroke="#9a9a9a" stroke-width="1.15"/><line x1="371.48" y1="349.19" x2="378.56" y2="356.26" stroke="#9a9a9a" stroke-width="1.15"/><line x1="378.56" y1="349.19" x2="371.48" y2="356.26" stroke="#9a9a9a" stroke-width="1.15"/><line x1="394.69" y1="348.30" x2="394.69" y2="358.30" stroke="#9a9a9a" stroke-width="1.15"/><line x1="391.15" y1="349.76" x2="398.23" y2="356.84" stroke="#9a9a9a" stroke-width="1.15"/><line x1="398.23" y1="349.76" x2="391.15" y2="356.84" stroke="#9a9a9a" stroke-width="1.15"/><line x1="414.36" y1="348.30" x2="414.36" y2="358.30" stroke="#9a9a9a" stroke-width="1.15"/><line x1="410.82" y1="349.76" x2="417.90" y2="356.84" stroke="#9a9a9a" stroke-width="1.15"/><line x1="417.90" y1="349.76" x2="410.82" y2="356.84" stroke="#9a9a9a" stroke-width="1.15"/><line x1="434.03" y1="348.30" x2="434.03" y2="358.30" stroke="#9a9a9a" stroke-width="1.15"/><line x1="430.49" y1="349.76" x2="437.57" y2="356.84" stroke="#9a9a9a" stroke-width="1.15"/><line x1="437.57" y1="349.76" x2="430.49" y2="356.84" stroke="#9a9a9a" stroke-width="1.15"/><line x1="453.70" y1="348.30" x2="453.70" y2="358.30" stroke="#9a9a9a" stroke-width="1.15"/><line x1="450.16" y1="349.76" x2="457.24" y2="356.84" stroke="#9a9a9a" stroke-width="1.15"/><line x1="457.24" y1="349.76" x2="450.16" y2="356.84" stroke="#9a9a9a" stroke-width="1.15"/><line x1="473.37" y1="348.30" x2="473.37" y2="358.30" stroke="#9a9a9a" stroke-width="1.15"/><line x1="469.83" y1="349.76" x2="476.91" y2="356.84" stroke="#9a9a9a" stroke-width="1.15"/><line x1="476.91" y1="349.76" x2="469.83" y2="356.84" stroke="#9a9a9a" stroke-width="1.15"/><line x1="493.04" y1="348.30" x2="493.04" y2="358.30" stroke="#9a9a9a" stroke-width="1.15"/><line x1="489.50" y1="349.76" x2="496.58" y2="356.84" stroke="#9a9a9a" stroke-width="1.15"/><line x1="496.58" y1="349.76" x2="489.50" y2="356.84" stroke="#9a9a9a" stroke-width="1.15"/><line x1="512.71" y1="348.30" x2="512.71" y2="358.30" stroke="#9a9a9a" stroke-width="1.15"/><line x1="509.17" y1="349.76" x2="516.25" y2="356.84" stroke="#9a9a9a" stroke-width="1.15"/><line x1="516.25" y1="349.76" x2="509.17" y2="356.84" stroke="#9a9a9a" stroke-width="1.15"/><rect x="62" y="346" width="134" height="8.5" fill="#fff" fill-opacity="0.25"/><polyline points="60.30,307.38 79.97,196.02 99.64,204.63 119.31,267.20 138.98,313.12 158.65,336.08 178.32,340.67 197.99,340.67 217.66,325.75 237.33,336.65 257.00,351.00 276.67,351.58 296.34,352.15 316.01,352.15 335.68,344.69 355.35,353.30 375.02,353.30 394.69,353.30 414.36,353.30 434.03,353.30 453.70,353.30 473.37,353.30 493.04,353.30 512.71,353.30" fill="none" stroke="#000" stroke-width="4.1" stroke-linejoin="round" stroke-linecap="round"/><polygon points="60.30,301.18 61.83,305.28 66.20,305.46 62.77,308.18 63.94,312.40 60.30,309.98 56.66,312.40 57.83,308.18 54.40,305.46 58.77,305.28" fill="#000"/><polygon points="79.97,189.82 81.50,193.92 85.87,194.11 82.44,196.83 83.61,201.04 79.97,198.62 76.33,201.04 77.50,196.83 74.07,194.11 78.44,193.92" fill="#000"/><polygon points="99.64,198.43 101.17,202.53 105.54,202.72 102.11,205.44 103.28,209.65 99.64,207.23 96.00,209.65 97.17,205.44 93.74,202.72 98.11,202.53" fill="#000"/><polygon points="119.31,261.00 120.84,265.10 125.21,265.28 121.78,268.00 122.95,272.22 119.31,269.80 115.67,272.22 116.84,268.00 113.41,265.28 117.78,265.10" fill="#000"/><polygon points="138.98,306.92 140.51,311.02 144.88,311.20 141.45,313.92 142.62,318.14 138.98,315.72 135.34,318.14 136.51,313.92 133.08,311.20 137.45,311.02" fill="#000"/><polygon points="158.65,329.88 160.18,333.98 164.55,334.16 161.12,336.88 162.29,341.10 158.65,338.68 155.01,341.10 156.18,336.88 152.75,334.16 157.12,333.98" fill="#000"/><polygon points="178.32,334.47 179.85,338.57 184.22,338.76 180.79,341.48 181.96,345.69 178.32,343.27 174.68,345.69 175.85,341.48 172.42,338.76 176.79,338.57" fill="#000"/><polygon points="197.99,334.47 199.52,338.57 203.89,338.76 200.46,341.48 201.63,345.69 197.99,343.27 194.35,345.69 195.52,341.48 192.09,338.76 196.46,338.57" fill="#000"/><polygon points="217.66,319.55 219.19,323.64 223.56,323.83 220.13,326.55 221.30,330.76 217.66,328.35 214.02,330.76 215.19,326.55 211.76,323.83 216.13,323.64" fill="#000"/><polygon points="237.33,330.45 238.86,334.55 243.23,334.74 239.80,337.46 240.97,341.67 237.33,339.25 233.69,341.67 234.86,337.46 231.43,334.74 235.80,334.55" fill="#000"/><polygon points="257.00,344.80 258.53,348.90 262.90,349.09 259.47,351.81 260.64,356.02 257.00,353.60 253.36,356.02 254.53,351.81 251.10,349.09 255.47,348.90" fill="#000"/><polygon points="276.67,345.38 278.20,349.47 282.57,349.66 279.14,352.38 280.31,356.59 276.67,354.18 273.03,356.59 274.20,352.38 270.77,349.66 275.14,349.47" fill="#000"/><polygon points="296.34,345.95 297.87,350.05 302.24,350.24 298.81,352.96 299.98,357.17 296.34,354.75 292.70,357.17 293.87,352.96 290.44,350.24 294.81,350.05" fill="#000"/><polygon points="316.01,345.95 317.54,350.05 321.91,350.24 318.48,352.96 319.65,357.17 316.01,354.75 312.37,357.17 313.54,352.96 310.11,350.24 314.48,350.05" fill="#000"/><polygon points="335.68,338.49 337.21,342.59 341.58,342.77 338.15,345.49 339.32,349.71 335.68,347.29 332.04,349.71 333.21,345.49 329.78,342.77 334.15,342.59" fill="#000"/><polygon points="355.35,347.10 356.88,351.20 361.25,351.38 357.82,354.10 358.99,358.32 355.35,355.90 351.71,358.32 352.88,354.10 349.45,351.38 353.82,351.20" fill="#000"/><polygon points="375.02,347.10 376.55,351.20 380.92,351.38 377.49,354.10 378.66,358.32 375.02,355.90 371.38,358.32 372.55,354.10 369.12,351.38 373.49,351.20" fill="#000"/><polygon points="394.69,347.10 396.22,351.20 400.59,351.38 397.16,354.10 398.33,358.32 394.69,355.90 391.05,358.32 392.22,354.10 388.79,351.38 393.16,351.20" fill="#000"/><polygon points="414.36,347.10 415.89,351.20 420.26,351.38 416.83,354.10 418.00,358.32 414.36,355.90 410.72,358.32 411.89,354.10 408.46,351.38 412.83,351.20" fill="#000"/><polygon points="434.03,347.10 435.56,351.20 439.93,351.38 436.50,354.10 437.67,358.32 434.03,355.90 430.39,358.32 431.56,354.10 428.13,351.38 432.50,351.20" fill="#000"/><polygon points="453.70,347.10 455.23,351.20 459.60,351.38 456.17,354.10 457.34,358.32 453.70,355.90 450.06,358.32 451.23,354.10 447.80,351.38 452.17,351.20" fill="#000"/><polygon points="473.37,347.10 474.90,351.20 479.27,351.38 475.84,354.10 477.01,358.32 473.37,355.90 469.73,358.32 470.90,354.10 467.47,351.38 471.84,351.20" fill="#000"/><polygon points="493.04,347.10 494.57,351.20 498.94,351.38 495.51,354.10 496.68,358.32 493.04,355.90 489.40,358.32 490.57,354.10 487.14,351.38 491.51,351.20" fill="#000"/><polygon points="512.71,347.10 514.24,351.20 518.61,351.38 515.18,354.10 516.35,358.32 512.71,355.90 509.07,358.32 510.24,354.10 506.81,351.38 511.18,351.20" fill="#000"/>
<g font-family="Liberation Sans" font-weight="bold" font-style="italic" font-size="22" fill="#000" stroke="#000" stroke-width="0.9">
<text x="46.8" y="360.90" text-anchor="end">0</text><text x="46.8" y="303.50" text-anchor="end">10</text><text x="46.8" y="246.10" text-anchor="end">20</text><text x="46.8" y="188.70" text-anchor="end">30</text><text x="46.8" y="131.30" text-anchor="end">40</text><text x="46.8" y="73.90" text-anchor="end">50</text><text x="46.8" y="16.50" text-anchor="end">60</text>
<text x="60.30" y="387.8" text-anchor="middle">1</text><text x="138.98" y="387.8" text-anchor="middle">5</text><text x="237.33" y="387.8" text-anchor="middle">10</text><text x="335.68" y="387.8" text-anchor="middle">15</text><text x="434.03" y="387.8" text-anchor="middle">20</text>
</g>
<text x="285.7" y="421" text-anchor="middle" font-family="Liberation Sans" font-weight="bold" font-style="italic" font-size="19" letter-spacing="0.95" stroke="#000" stroke-width="0.8">Fraction #</text>
<text transform="translate(15.8,181.3) rotate(-90)" text-anchor="middle" font-family="Liberation Sans" font-weight="bold" font-style="italic" font-size="20" letter-spacing="0.15" stroke="#000" stroke-width="0.9">Percent of Total</text>
</svg>
</body></html>
